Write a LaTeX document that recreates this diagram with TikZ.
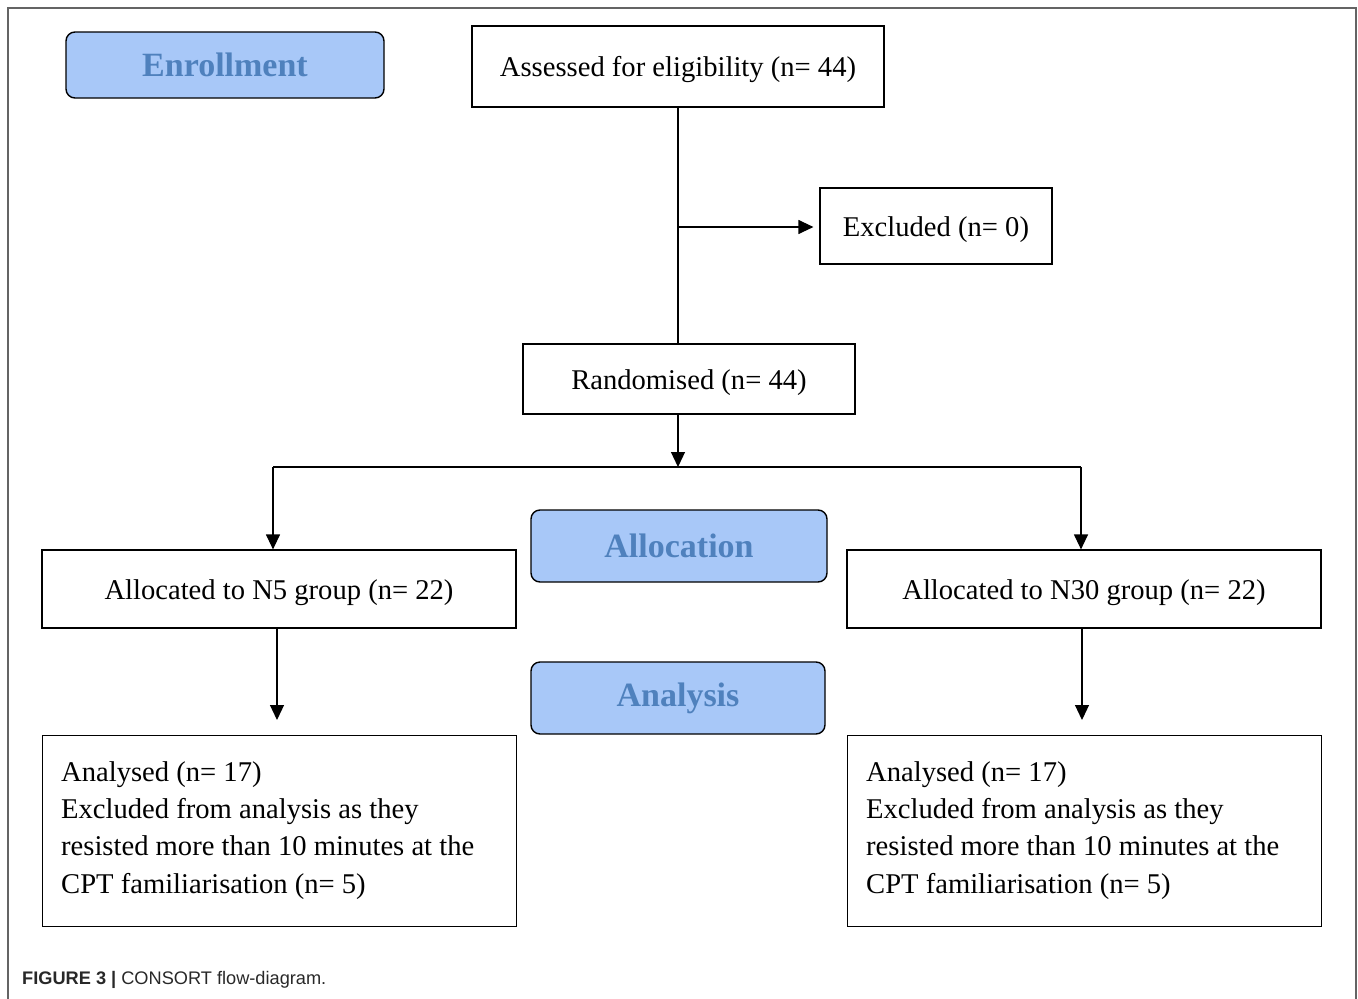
\documentclass[tikz,border=0pt]{standalone}
\usepackage{fontspec}
\setmainfont{Liberation Serif}
\newfontfamily\capfont{Liberation Sans}
\usetikzlibrary{arrows.meta}
\definecolor{stagefill}{RGB}{168,200,248}
\definecolor{stagetext}{RGB}{79,129,189}
\definecolor{framegray}{RGB}{100,100,100}
\definecolor{captext}{RGB}{40,40,40}
\begin{document}
\begin{tikzpicture}[x=1pt,y=-1pt,
  box/.style={draw,line width=1.2pt,inner sep=0pt,text height=20pt,text depth=0pt,
    font=\fontsize{28.6}{33}\selectfont},
  stage/.style={draw,line width=1.4pt,fill=stagefill,rounded corners=9pt,inner sep=0pt,
    text=stagetext,font=\fontsize{34}{38}\selectfont\bfseries},
  conn/.style={line width=1.2pt},
  arr/.style={conn,-{Triangle[length=15pt,width=14pt]}},
  para/.style={anchor=base west,align=left,font=\fontsize{28.6}{37.2}\selectfont,inner sep=0pt}]
\useasboundingbox (0,0) rectangle (1358,999);
% frame
\draw[framegray,line width=1.3pt] (8,999) -- (8,8) -- (1356,8) -- (1356,999);
% stage labels
\node[stage,minimum width=318pt,minimum height=66pt] (enr) at (225,65) {Enrollment};
\node[stage,minimum width=296pt,minimum height=72pt] (alloc) at (679,546) {Allocation};
\node[stage,minimum width=294pt,minimum height=72pt] (anal) at (678,698) {Analysis};
% boxes
\node[box,minimum width=412pt,minimum height=81pt] (assess) at (678,66.5) {Assessed for eligibility (n= 44)};
\node[box,minimum width=232pt,minimum height=76pt] (excl) at (936,226) {Excluded (n= 0)};
\node[box,minimum width=332pt,minimum height=70pt] (rand) at (689,379) {Randomised (n= 44)};
\node[box,minimum width=474pt,minimum height=78pt] (n5) at (279,589) {Allocated to N5 group (n= 22)};
\node[box,minimum width=474pt,minimum height=78pt] (n30) at (1084,589) {Allocated to N30 group (n= 22)};
\node[box,minimum width=474pt,minimum height=191pt,anchor=north west] (an5) at (42,735) {};
\node[box,minimum width=474pt,minimum height=191pt,anchor=north west] (an30) at (847,735) {};
\node[para] (t5) at (61,893)
  {Analysed (n= 17)\\Excluded from analysis as they\\resisted more than 10 minutes at the\\CPT familiarisation (n= 5)};
\node[para] (t30) at (866,893)
  {Analysed (n= 17)\\Excluded from analysis as they\\resisted more than 10 minutes at the\\CPT familiarisation (n= 5)};
% connectors
\coordinate (j1) at (678,227);
\coordinate (j2) at (678,467);
\coordinate (jl) at (273,467);
\coordinate (jr) at (1081,467);
\draw[conn] (assess.south -| j1) -- (rand.north -| j1);
\draw[arr,shorten >=6pt] (j1) -- (excl.west |- j1);
\draw[arr] (rand.south -| j2) -- (j2);
\draw[conn] (jl) -- (jr);
\draw[arr] (jl) -- (n5.north -| jl);
\draw[arr] (jr) -- (n30.north -| jr);
\coordinate (bl) at (277,720);
\coordinate (br) at (1082,720);
\draw[arr] (n5.south -| bl) -- (bl);
\draw[arr] (n30.south -| br) -- (br);
% caption
\node[anchor=base west,inner sep=0pt,text=captext,font=\capfont\fontsize{18.2}{22}\selectfont] (cap) at (22,984)
  {\textbf{FIGURE 3 |} CONSORT flow-diagram.};
\end{tikzpicture}
\end{document}
